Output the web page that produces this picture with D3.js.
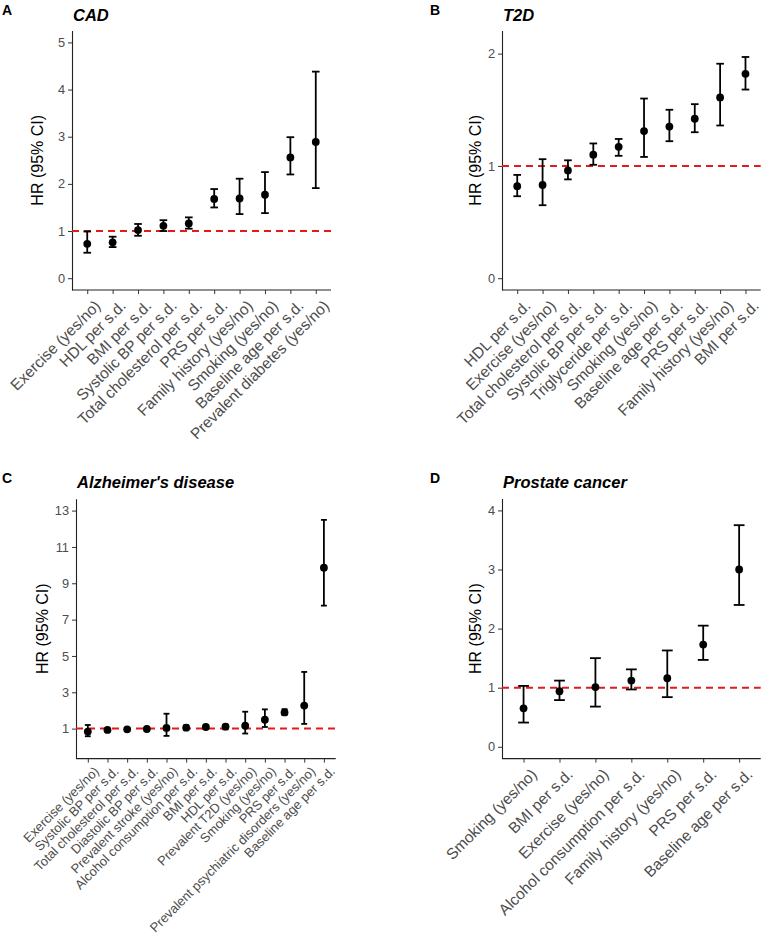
<!DOCTYPE html>
<html>
<head>
<meta charset="utf-8">
<script src="https://cdn.jsdelivr.net/npm/d3@7"></script>
<style>
  html, body { margin: 0; padding: 0; background: #fff; }
  svg { display: block; font-family: "Liberation Sans", Arial, Helvetica, sans-serif; }
</style>
</head>
<body>
<svg id="chart" width="767" height="939"></svg>
<script>
// ---------- Panel A: CAD ----------
const cadCategories = ["Exercise (yes/no)", "HDL per s.d.", "BMI per s.d.", "Systolic BP per s.d.", "Total cholesterol per s.d.", "PRS per s.d.", "Family history (yes/no)", "Smoking (yes/no)", "Baseline age per s.d.", "Prevalent diabetes (yes/no)"];
const cadHR    = [0.73, 0.76, 1.02, 1.11, 1.16, 1.68, 1.69, 1.77, 2.56, 2.89];
const cadLower = [0.54, 0.66, 0.90, 1.00, 1.05, 1.50, 1.36, 1.38, 2.20, 1.91];
const cadUpper = [0.99, 0.88, 1.15, 1.23, 1.29, 1.89, 2.11, 2.25, 2.99, 4.38];
const cadTicks = [0, 1, 2, 3, 4, 5];

// ---------- Panel B: T2D ----------
const t2dCategories = ["HDL per s.d.", "Exercise (yes/no)", "Total cholesterol per s.d.", "Systolic BP per s.d.", "Triglyceride per s.d.", "Smoking (yes/no)", "Baseline age per s.d.", "PRS per s.d.", "Family history (yes/no)", "BMI per s.d."];
const t2dHR    = [0.82, 0.83, 0.96, 1.10, 1.17, 1.31, 1.35, 1.42, 1.61, 1.82];
const t2dLower = [0.73, 0.65, 0.88, 1.01, 1.09, 1.08, 1.22, 1.30, 1.36, 1.68];
const t2dUpper = [0.92, 1.06, 1.05, 1.20, 1.24, 1.60, 1.50, 1.55, 1.91, 1.97];
const t2dTicks = [0, 1, 2];

// ---------- Panel C: Alzheimer's disease ----------
const adCategories = ["Exercise (yes/no)", "Systolic BP per s.d.", "Total cholesterol per s.d.", "Diastolic BP per s.d.", "Prevalent stroke (yes/no)", "Alcohol consumption per s.d.", "BMI per s.d.", "HDL per s.d.", "Prevalent T2D (yes/no)", "Smoking (yes/no)", "PRS per s.d.", "Prevalent psychiatric disorders (yes/no)", "Baseline age per s.d."];
const adHR    = [0.84, 0.93, 0.96, 0.98, 1.04, 1.05, 1.09, 1.11, 1.16, 1.49, 1.89, 2.27, 9.86];
const adLower = [0.58, 0.88, 0.92, 0.94, 0.60, 0.93, 0.98, 0.96, 0.73, 1.09, 1.75, 1.26, 7.77];
const adUpper = [1.20, 0.98, 1.00, 1.02, 1.82, 1.18, 1.20, 1.22, 1.93, 2.06, 2.07, 4.12, 12.49];
const adTicks = [1, 3, 5, 7, 9, 11, 13];

// ---------- Panel D: Prostate cancer ----------
const pcCategories = ["Smoking (yes/no)", "BMI per s.d.", "Exercise (yes/no)", "Alcohol consumption per s.d.", "Family history (yes/no)", "PRS per s.d.", "Baseline age per s.d."];
const pcHR    = [0.65, 0.94, 1.01, 1.12, 1.16, 1.73, 3.00];
const pcLower = [0.41, 0.79, 0.68, 0.97, 0.84, 1.47, 2.40];
const pcUpper = [1.03, 1.12, 1.50, 1.31, 1.63, 2.05, 3.75];
const pcTicks = [0, 1, 2, 3, 4];

const svg = d3.select("#chart");

function drawPanel(cfg) {
  const g = svg.append("g");
  const x = d3.scalePoint().domain(cfg.categories).range([cfg.left, cfg.right]).padding(0.6);
  const y = d3.scaleLinear().domain(cfg.domain).range([cfg.bottom, cfg.top]);
  const step = x.step();
  const capHalf = step * 0.15;

  // panel letter + title
  g.append("text").attr("x", cfg.letterX).attr("y", cfg.letterY)
    .attr("font-size", 14).attr("font-weight", "bold").attr("fill", "#000").text(cfg.letter);
  g.append("text").attr("x", cfg.left + 1).attr("y", cfg.titleY)
    .attr("font-size", 16.5).attr("font-weight", "bold").attr("font-style", "italic").attr("fill", "#000").text(cfg.title);

  // y axis
  const ya = g.append("g").attr("transform", `translate(${cfg.left},0)`)
    .call(d3.axisLeft(y).tickValues(cfg.ticks).tickSize(4).tickSizeOuter(0).tickPadding(3).tickFormat(d3.format("d")));
  ya.select(".domain").attr("stroke", "#222").attr("stroke-width", 1.1);
  ya.selectAll(".tick line").attr("stroke", "#333").attr("stroke-width", 1);
  ya.selectAll(".tick text").attr("fill", "#4D4D4D").attr("font-size", 12.8).attr("font-family", null);

  // x axis
  const xa = g.append("g").attr("transform", `translate(0,${cfg.bottom})`)
    .call(d3.axisBottom(x).tickSize(4).tickSizeOuter(0).tickPadding(2));
  xa.select(".domain").attr("d", `M${cfg.left},0H${cfg.right}`).attr("stroke", "#222").attr("stroke-width", 1.1);
  xa.selectAll(".tick line").attr("stroke", "#333").attr("stroke-width", 1);
  xa.selectAll(".tick text")
    .attr("fill", "#4D4D4D").attr("font-size", cfg.xFont).attr("font-family", null)
    .attr("text-anchor", "end").attr("y", 0).attr("dy", "0.71em")
    .attr("transform", `translate(${cfg.xShift[0]},${cfg.xShift[1]}) rotate(-45)`);

  // y axis title
  g.append("text")
    .attr("transform", `translate(${cfg.yTitleX},${(cfg.top + cfg.bottom) / 2}) rotate(-90)`)
    .attr("text-anchor", "middle").attr("font-size", 16).attr("fill", "#000").text("HR (95% CI)");

  // reference line
  g.append("line")
    .attr("x1", cfg.left).attr("x2", cfg.right)
    .attr("y1", y(1)).attr("y2", y(1))
    .attr("stroke", "#E41A1C").attr("stroke-width", 2).attr("stroke-dasharray", "7,5");

  const rows = cfg.categories.map((c, i) => ({ c, hr: cfg.hr[i], lo: cfg.lower[i], hi: cfg.upper[i] }));
  const eb = g.append("g").attr("stroke", "#000").attr("stroke-width", 1.8).attr("fill", "none");
  rows.forEach(r => {
    const cx = x(r.c);
    eb.append("line").attr("x1", cx).attr("x2", cx).attr("y1", y(r.lo)).attr("y2", y(r.hi));
    eb.append("line").attr("x1", cx - capHalf).attr("x2", cx + capHalf).attr("y1", y(r.lo)).attr("y2", y(r.lo));
    eb.append("line").attr("x1", cx - capHalf).attr("x2", cx + capHalf).attr("y1", y(r.hi)).attr("y2", y(r.hi));
  });
  g.append("g").selectAll("circle").data(rows).join("circle")
    .attr("cx", d => x(d.c)).attr("cy", d => y(d.hr)).attr("r", 3.9).attr("fill", "#000");
}

drawPanel({ letter: "A", letterX: 2, letterY: 15, title: "CAD", titleY: 21,
  categories: cadCategories, hr: cadHR, lower: cadLower, upper: cadUpper, ticks: cadTicks,
  domain: [-0.25, 5.25], left: 72, right: 331, top: 30.6, bottom: 290, yTitleX: 43, xFont: 15.5, xShift: [6, 9] });

drawPanel({ letter: "B", letterX: 430, letterY: 15, title: "T2D", titleY: 21,
  categories: t2dCategories, hr: t2dHR, lower: t2dLower, upper: t2dUpper, ticks: t2dTicks,
  domain: [-0.105, 2.205], left: 502, right: 760.7, top: 30.6, bottom: 290, yTitleX: 481, xFont: 15.5, xShift: [6, 9] });

drawPanel({ letter: "C", letterX: 2, letterY: 483, title: "Alzheimer's disease", titleY: 488,
  categories: adCategories, hr: adHR, lower: adLower, upper: adUpper, ticks: adTicks,
  domain: [-0.65, 13.65], left: 76, right: 335.7, top: 498.8, bottom: 758.6, yTitleX: 48, xFont: 13, xShift: [5, 7] });

drawPanel({ letter: "D", letterX: 430, letterY: 483, title: "Prostate cancer", titleY: 488,
  categories: pcCategories, hr: pcHR, lower: pcLower, upper: pcUpper, ticks: pcTicks,
  domain: [-0.2, 4.2], left: 502, right: 760.7, top: 498.6, bottom: 758.6, yTitleX: 481, xFont: 15.5, xShift: [6, 9] });
</script>
</body>
</html>
